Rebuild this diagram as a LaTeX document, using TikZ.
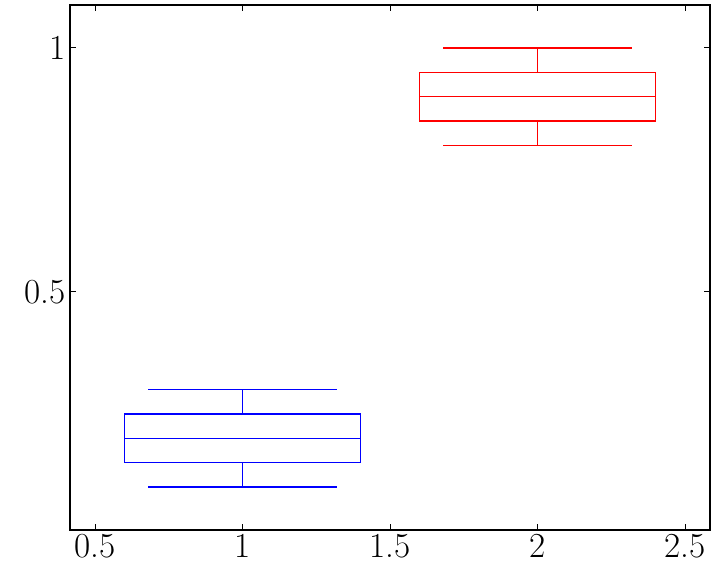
\documentclass[tikz,border=0pt]{standalone}
\usepackage{tikz}
\usetikzlibrary{calc}

\begin{document}
\begin{tikzpicture}[
	x=7.375cm, y=12.2cm,
	frame/.style={draw, line width=1pt},
	tick/.style={line width=0.6pt},
	lbl/.style={font=\fontsize{25}{30}\selectfont, inner sep=3pt},
	boxB/.style={draw=blue, line width=1pt},
	boxR/.style={draw=red, line width=1pt}
	]
	
	\useasboundingbox (0.178, -0.086) rectangle (2.605, 1.098);
	
	\coordinate (SW) at (0.415, 0.0123);
	\coordinate (NE) at (2.585, 1.088);
	\draw[frame] (SW) rectangle (NE);
	
	% x ticks
	\foreach \x/\t in {0.5/0.5, 1/1, 1.5/1.5, 2/2, 2.5/2.5} {
		\draw[tick] (\x, 0.0123) -- ++(0, 0.0123);
		\draw[tick] (\x, 1.088) -- ++(0, -0.0123);
		\node[lbl, anchor=north] (xl\t) at (\x, 0.0123) {\t};
	}
	% y ticks
	\foreach \y/\t in {0.5/0.5, 1/1} {
		\draw[tick] (0.415, \y) -- ++(0.02, 0);
		\draw[tick] (2.585, \y) -- ++(-0.02, 0);
		\node[lbl, anchor=east] (yl\t) at (0.415, \y) {\t};
	}
	
	% Blue box
	\draw[boxB] (0.6, 0.15) rectangle (1.4, 0.25);
	\draw[boxB] (0.6, 0.2) -- (1.4, 0.2);
	\draw[boxB] (1, 0.15) -- (1, 0.1);
	\draw[boxB] (1, 0.25) -- (1, 0.3);
	\draw[boxB] (0.68, 0.1) -- (1.32, 0.1);
	\draw[boxB] (0.68, 0.3) -- (1.32, 0.3);
	
	% Red box
	\draw[boxR] (1.6, 0.85) rectangle (2.4, 0.95);
	\draw[boxR] (1.6, 0.9) -- (2.4, 0.9);
	\draw[boxR] (2, 0.85) -- (2, 0.8);
	\draw[boxR] (2, 0.95) -- (2, 1);
	\draw[boxR] (1.68, 0.8) -- (2.32, 0.8);
	\draw[boxR] (1.68, 1) -- (2.32, 1);
\end{tikzpicture}
\end{document}
